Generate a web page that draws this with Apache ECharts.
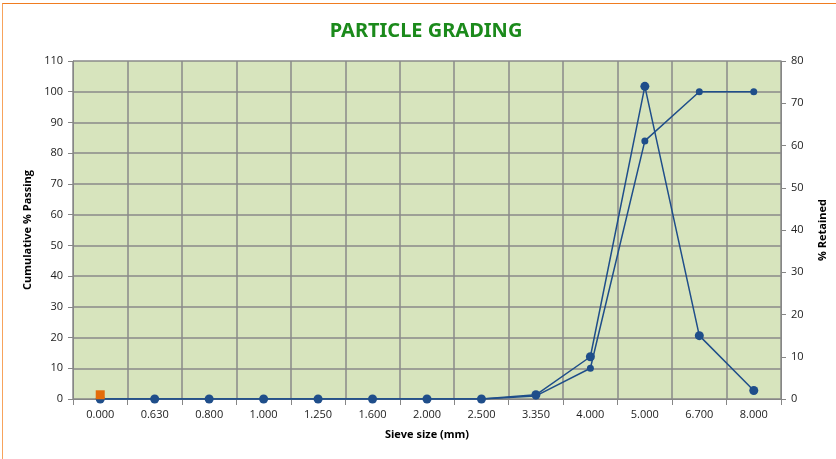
<!DOCTYPE html>
<html><head><meta charset="utf-8">
<script src="https://cdn.jsdelivr.net/npm/echarts@6/dist/echarts.min.js"></script>
<style>
html,body{margin:0;padding:0;background:#fff;}
#wrap{position:absolute;left:2px;top:3px;width:900px;height:500px;border-top:1.5px solid #f07c20;border-left:1.5px solid #f7a35c;}
#c{position:absolute;left:0;top:0;width:836px;height:459px;}
</style></head>
<body>
<div id="wrap"></div>
<div id="c"></div>
<script>
const categories = ['0.000','0.630','0.800','1.000','1.250','1.600','2.000','2.500','3.350','4.000','5.000','6.700','8.000'];
const cumulativePassing = [0,0,0,0,0,0,0,0,1,10,84,100,100];
const retained = [0,0,0,0,0,0,0,0,1,10,74,15,2];
const orangePoint = [1,null,null,null,null,null,null,null,null,null,null,null,null];
const leftTicks = {min:0,max:110,interval:10};
const rightTicks = {min:0,max:80,interval:10};

const font = "'Open Sans', 'Noto Sans', sans-serif";
const blue = '#1f4e8a';
const chart = echarts.init(document.getElementById('c'));
chart.setOption({
  animation:false,
  backgroundColor:'transparent',
  title:{text:'PARTICLE GRADING',left:421,textAlign:'center',top:16,
    textStyle:{color:'#1b8a1b',fontSize:20,fontWeight:'bold',fontFamily:"'Liberation Sans Narrow','Noto Sans',sans-serif"}},
  grid:{left:73,right:51,top:61,bottom:60,show:true,backgroundColor:'#d7e4bd',borderWidth:0},
  xAxis:{type:'category',data:categories,boundaryGap:true,
    name:'Sieve size (mm)',nameLocation:'middle',nameGap:30,
    nameTextStyle:{fontWeight:'bold',fontSize:11,color:'#000',fontFamily:font},
    axisLine:{lineStyle:{color:'#868686'}},
    axisTick:{show:true,alignWithLabel:false,length:6,lineStyle:{color:'#868686'}},
    axisLabel:{fontSize:11,color:'#222',margin:10,fontFamily:font},
    splitLine:{show:true,lineStyle:{color:'#8a8a8a',width:1.5}}},
  yAxis:[
    {type:'value',min:leftTicks.min,max:leftTicks.max,interval:leftTicks.interval,
     name:'Cumulative % Passing',nameLocation:'middle',nameGap:40,nameRotate:90,
     nameTextStyle:{fontWeight:'bold',fontSize:11,color:'#000',fontFamily:font},
     axisLine:{show:true,lineStyle:{color:'#868686'}},
     axisTick:{show:true,length:5,lineStyle:{color:'#868686'}},
     axisLabel:{fontSize:11,color:'#222',margin:10,fontFamily:font},
     splitLine:{show:true,lineStyle:{color:'#8a8a8a',width:1.5}}},
    {type:'value',min:rightTicks.min,max:rightTicks.max,interval:rightTicks.interval,position:'right',
     name:'% Retained',nameLocation:'middle',nameGap:36,nameRotate:90,
     nameTextStyle:{fontWeight:'bold',fontSize:11,color:'#000',fontFamily:font},
     axisLine:{show:true,lineStyle:{color:'#868686'}},
     axisTick:{show:true,length:5,lineStyle:{color:'#868686'}},
     axisLabel:{fontSize:11,color:'#222',margin:10,fontFamily:font},
     splitLine:{show:false}}
  ],
  series:[
    {type:'line',name:'Cumulative % Passing',yAxisIndex:0,data:cumulativePassing,
     symbol:'circle',symbolSize:7,lineStyle:{color:blue,width:1.5},itemStyle:{color:blue}},
    {type:'line',name:'% Retained',yAxisIndex:1,data:retained,
     symbol:'circle',symbolSize:9,lineStyle:{color:blue,width:1.5},itemStyle:{color:blue}},
    {type:'line',name:'Marker',yAxisIndex:1,data:orangePoint,
     symbol:'rect',symbolSize:9,showSymbol:true,lineStyle:{width:0},itemStyle:{color:'#e46c0a'},z:5}
  ]
});
</script>
</body></html>
